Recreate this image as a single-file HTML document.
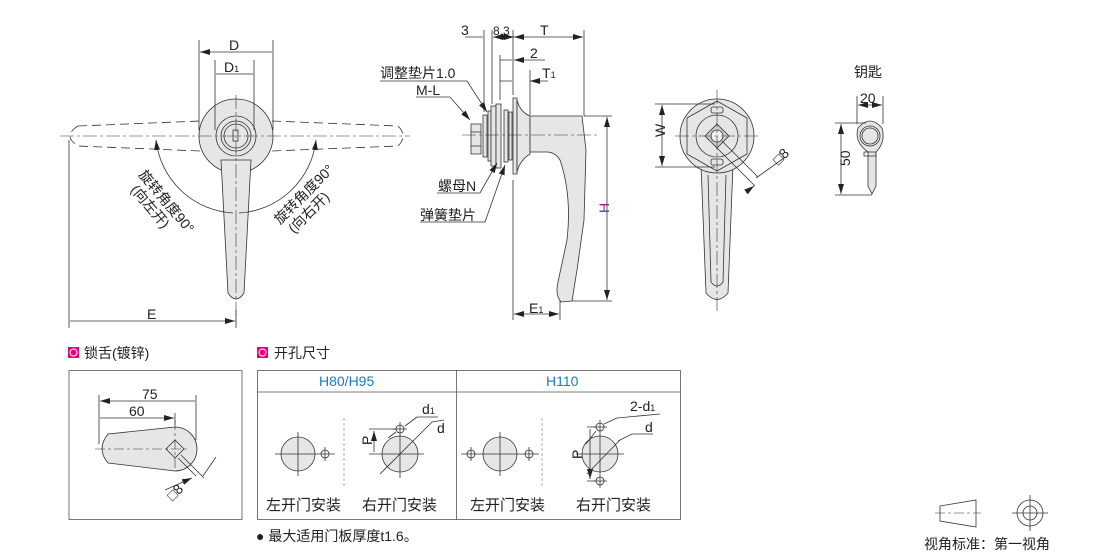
<!DOCTYPE html>
<html><head><meta charset="utf-8"><style>
body{margin:0;background:#fff}
svg{display:block}
text{font-family:"Liberation Sans","Noto Sans CJK SC",sans-serif}
</style></head><body>
<svg width="1110" height="555" viewBox="0 0 1110 555" xmlns="http://www.w3.org/2000/svg">
<defs>
<marker id="a" viewBox="0 0 10 6" refX="10" refY="3" markerWidth="10" markerHeight="6" orient="auto-start-reverse" markerUnits="userSpaceOnUse"><path d="M0,0L10,3L0,6z" fill="#222"/></marker>
</defs>
<g stroke="#333" stroke-width="0.8" fill="none">
<!-- LEFT VIEW -->
<path d="M78,126 L200,121 M272,121 L398,126 Q408,136 398,146 L272,151 M200,151 L78,146 Q62,136 78,126" stroke-dasharray="9,5"/>
<circle cx="236" cy="136" r="37" fill="#e6e6e6"/>
<path d="M221,160 L251,160 L244,293 Q236,305 228,293 Z" fill="#e6e6e6"/>
<circle cx="236" cy="136" r="20" fill="#e6e6e6"/>
<circle cx="236" cy="136" r="15"/>
<circle cx="236" cy="136" r="12"/>
<rect x="233" y="130" width="5" height="11"/>
<path d="M60,136 H410 M236,95 V325" stroke-dasharray="14,3,3,3" stroke-width="0.6"/>
<path d="M199,40 V130 M273,40 V130 M215,60 V130 M254,60 V130 M69,140 V328 M236,310 V328"/>
<path d="M200,52 H272 M216,74 H253 M70,321 H235" marker-start="url(#a)" marker-end="url(#a)"/>
<path d="M156,140 A82,82 0 0 0 233,213" marker-start="url(#a)"/>
<path d="M316,140 A82,82 0 0 1 239,213" marker-start="url(#a)"/>
<!-- SIDE VIEW -->
<path d="M471,124 h10 v30 h-10z M471,132 h10 M471,146 h10" fill="#e6e6e6"/>
<rect x="483" y="115" width="4" height="42" fill="#e6e6e6"/>
<rect x="488" y="111" width="3" height="50" fill="#e6e6e6"/>
<rect x="491" y="106" width="5" height="60" fill="#e6e6e6"/>
<rect x="496" y="104" width="5" height="64" fill="#e6e6e6"/>
<rect x="504" y="110" width="4" height="52" fill="#e6e6e6"/>
<rect x="509" y="112" width="3" height="48" fill="#e6e6e6"/>
<path d="M513,98 h4 v76 h-4z" fill="#e6e6e6"/>
<path d="M517,100 Q520,112 530,116 V154 Q520,160 517,172 Z" fill="#e6e6e6"/>
<path d="M530,116 H582 L586,150 L584,220 L577,270 L572,301 L561,302 Q555,295 558,282 L567,240 Q572,195 560,160 Q556,153 548,152 H530 Z" fill="#e6e6e6"/>
<path d="M462,135 H600" stroke-dasharray="14,3,3,3" stroke-width="0.6"/>
<path d="M484,30 V112 M492,30 V104 M513,30 V95 M584,30 V116 M500,55 V100 M530,70 V115 M513,180 V320 M560,300 V320 M584,116 H612 M572,301 H612"/>
<path d="M465,37 H483 M506,37 H514" marker-end="url(#a)"/>
<path d="M493,37 H512" marker-start="url(#a)" marker-end="url(#a)"/>
<path d="M514,37 H583" marker-start="url(#a)" marker-end="url(#a)"/>
<path d="M500,60 H512 M545,60 H514" marker-end="url(#a)"/>
<path d="M500,81 H512 M548,81 H530" marker-end="url(#a)"/>
<path d="M607,117 V300" marker-start="url(#a)" marker-end="url(#a)"/>
<path d="M514,314 H559" marker-start="url(#a)" marker-end="url(#a)"/>
<path d="M380,81 H467 L487,112" marker-end="url(#a)"/>
<path d="M416,97 H450 L470,120" marker-end="url(#a)"/>
<path d="M437,193 H480 L497,163" marker-end="url(#a)"/>
<path d="M420,222 H485 L505,165" marker-end="url(#a)"/>
<!-- RIGHT VIEW -->
<path d="M701,165 L733,165 L728,293 Q717,306 706,293 Z" fill="#e6e6e6"/>
<path d="M708,175 L711,282 M726,175 L723,282 M711,282 Q717,290 723,282"/>
<circle cx="717" cy="136" r="37" fill="#e6e6e6"/>
<path d="M717,101 L747,118 L747,154 L717,171 L687,154 L687,118 Z"/>
<circle cx="717" cy="136" r="21"/>
<path d="M717,124 L729,136 L717,148 L705,136 Z" fill="#ccc"/>
<circle cx="717" cy="136" r="6" fill="#eee"/>
<rect x="711" y="107" width="12" height="6" rx="2"/>
<rect x="711" y="159" width="12" height="6" rx="2"/>
<path d="M675,136 H760 M717,90 V312" stroke-dasharray="14,3,3,3" stroke-width="0.6"/>
<path d="M655,104 H715 M655,167 H715 M722,141 L758,177 M717,148 L755,186"/>
<path d="M662,105 V166" marker-start="url(#a)" marker-end="url(#a)"/>
<path d="M784,158 L756,178 M746,192 L754,186" marker-end="url(#a)"/>
<!-- KEY -->
<path d="M858,128 Q870,114 882,128 Q886,142 876,152 V186 L872,194 L868,186 V152 Q854,142 858,128Z" fill="#e6e6e6"/>
<circle cx="870" cy="136" r="8"/><circle cx="870" cy="136" r="10"/>
<rect x="864" y="152" width="12" height="4"/>
<path d="M857,96 V124 M883,96 V124 M835,123 H866 M835,195 H872"/>
<path d="M858,105 H882" marker-start="url(#a)" marker-end="url(#a)"/>
<path d="M841,124 V194" marker-start="url(#a)" marker-end="url(#a)"/>
<!-- BOTTOM BOXES -->
<rect x="69" y="370.5" width="173" height="149" stroke="#555"/>
<rect x="257.5" y="370.5" width="423" height="149" stroke="#555"/>
<path d="M257,392 H681 M456.5,370 V520" stroke="#555"/>
<path d="M108,434 L175,427 A22,22 0 0 1 175,471 L108,463 Q96,449 108,434Z" fill="#e6e6e6"/>
<path d="M175,440 L184,449 L175,458 L166,449Z"/>
<path d="M95,449 H190 M175,420 V470" stroke-dasharray="10,3,3,3" stroke-width="0.6"/>
<path d="M99,395 V444 M196,395 V440 M175,413 V425 M181,455 L204,478 M178,458 L196,476"/>
<path d="M100,401 H195 M100,418 H174" marker-start="url(#a)" marker-end="url(#a)"/>
<path d="M216,457 L203,476 M165,490 L192,478" marker-end="url(#a)"/>
<circle cx="298" cy="454" r="17" fill="#e6e6e6"/>
<circle cx="325" cy="454" r="4"/>
<circle cx="400" cy="454" r="18" fill="#e6e6e6"/>
<circle cx="400" cy="429" r="4"/>
<circle cx="500" cy="454" r="17" fill="#e6e6e6"/>
<circle cx="471" cy="454" r="4"/><circle cx="529" cy="454" r="4"/>
<circle cx="600" cy="454" r="18" fill="#e6e6e6"/>
<circle cx="600" cy="427" r="4"/><circle cx="600" cy="481" r="4"/>
<path d="M275,454 H335 M298,432 V476 M325,447 V461 M376,454 H424 M400,422 V478 M393,429 H407 M461,454 H539 M500,432 V476 M471,447 V461 M529,447 V461 M576,454 H624 M600,420 V488 M593,427 H607 M593,481 H607"/>
<path d="M344,418 V488 M542,418 V488" stroke-dasharray="3,2" stroke="#999"/>
<path d="M369,429 H396 M369,454 H376 M587,427 H596 M587,481 H596"/>
<path d="M374,431 V452 M590,429 V479" marker-start="url(#a)" marker-end="url(#a)"/>
<path d="M380,474 L420,434 M388,438 L396,432 M417,417 L405,426 M438,417 L417,417 M444,420 L432,422 L420,434" />
<path d="M587,474 L620,440 M586,444 L596,431 M617,418 L604,424 M660,414 L617,418 M653,434 L632,434 L618,441"/>
<!-- legend -->
<path d="M940,506 L976,500 V527 L940,521 Z"/>
<path d="M935,513 H981" stroke-dasharray="10,3,3,3" stroke-width="0.6"/>
<circle cx="1030" cy="513" r="13"/><circle cx="1030" cy="513" r="7"/>
<path d="M1012,513 H1048 M1030,495 V531"/>
</g>
<rect x="68" y="347" width="11" height="11" fill="#e5007e"/><circle cx="73.5" cy="352.5" r="3.5" fill="none" stroke="#fff" stroke-width="1"/>
<rect x="257" y="347" width="11" height="11" fill="#e5007e"/><circle cx="262.5" cy="352.5" r="3.5" fill="none" stroke="#fff" stroke-width="1"/>
<g font-size="14" style="fill:#222">
<text x="229" y="50">D</text>
<text x="224" y="72">D<tspan font-size="9">1</tspan></text>
<text x="147" y="319">E</text>
<text x="461" y="35">3</text>
<text x="493" y="35" font-size="12">8.3</text>
<text x="540" y="35">T</text>
<text x="530" y="58">2</text>
<text x="542" y="78">T<tspan font-size="9">1</tspan></text>
<text x="380" y="78">调整垫片1.0</text>
<text x="416" y="95">M-L</text>
<text x="438" y="191">螺母N</text>
<text x="420" y="220">弹簧垫片</text>
<text x="529" y="313">E<tspan font-size="9">1</tspan></text>
<text x="599" y="213" style="fill:#8b2a7c" transform="rotate(-90 604 208)">H</text>
<text x="660" y="142" transform="rotate(-90 660 137)">W</text>
<text x="772" y="160" transform="rotate(-45 782 155)">□8</text>
<text x="854" y="77">钥匙</text>
<text x="860" y="103">20</text>
<text x="839" y="165" transform="rotate(-90 845 160)">50</text>
<text x="84" y="358">锁舌(镀锌)</text>
<text x="274" y="358">开孔尺寸</text>
<text x="142" y="399">75</text>
<text x="129" y="416">60</text>
<text x="165" y="497" transform="rotate(-45 174 490)">□8</text>
<text x="319" y="386" style="fill:#1a7cc0">H80/H95</text>
<text x="546" y="386" style="fill:#1a7cc0">H110</text>
<text x="422" y="414">d<tspan font-size="9">1</tspan></text>
<text x="437" y="433">d</text>
<text x="630" y="411">2-d<tspan font-size="9">1</tspan></text>
<text x="645" y="432">d</text>
<text x="363" y="444" transform="rotate(-90 368 440)">P</text>
<text x="573" y="458" transform="rotate(-90 578 454)">P</text>
<text x="266" y="510" font-size="15">左开门安装</text>
<text x="362" y="510" font-size="15">右开门安装</text>
<text x="470" y="510" font-size="15">左开门安装</text>
<text x="576" y="510" font-size="15">右开门安装</text>
<text x="256" y="541">● 最大适用门板厚度t1.6。</text>
<text x="924" y="549">视角标准：第一视角</text>
<text x="138" y="175" transform="rotate(50 138 175)">旋转角度90°</text>
<text x="130" y="190" transform="rotate(50 130 190)">(向左开)</text>
<text x="280" y="225" transform="rotate(-45 280 225)">旋转角度90°</text>
<text x="294" y="234" transform="rotate(-45 294 234)">(向右开)</text>
</g>
</svg>
</body></html>
